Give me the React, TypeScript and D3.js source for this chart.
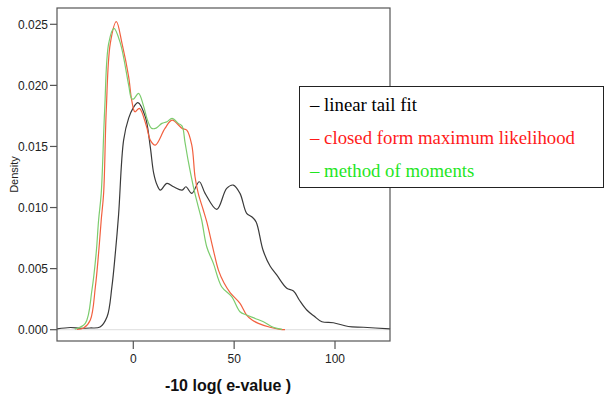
import React from "react";
import * as d3 from "d3";

// density estimates: [x, density]
const linearTailFit: [number, number][] = [
  [-37.8, 0.00006], [-31.2, 0.00018], [-26.4, 0.00012], [-21.5, 0.00014], [-16.5, 0.00022],
  [-13.0, 0.00106], [-10.6, 0.00352], [-8.9, 0.00628], [-7.3, 0.0094], [-4.8, 0.01552],
  [-2.3, 0.01732], [-0.1, 0.01814], [2.3, 0.01859], [6.0, 0.0174], [8.4, 0.01498],
  [10.1, 0.01282], [11.8, 0.01184], [13.4, 0.01143], [16.7, 0.01198], [20.0, 0.0117],
  [24.2, 0.01143], [26.1, 0.0117], [29.0, 0.01116], [32.7, 0.01211], [35.6, 0.01116],
  [41.4, 0.00985], [46.3, 0.01157], [49.6, 0.01184], [52.9, 0.01116], [56.2, 0.00953],
  [58.7, 0.00925], [60.9, 0.00881], [64.3, 0.00652], [67.8, 0.00521], [71.1, 0.00448],
  [76.1, 0.00339], [79.4, 0.00317], [82.3, 0.00243], [86.0, 0.00161], [89.6, 0.00112],
  [93.5, 0.00065], [99.2, 0.00057], [106.6, 0.00026], [114.1, 0.0002], [127.3, 0.00006],
];

const closedFormML: [number, number][] = [
  [-28.0, 0.00002], [-24.6, 0.00014], [-21.3, 0.0008], [-18.8, 0.00352], [-17.2, 0.00628],
  [-15.9, 0.00898], [-14.7, 0.01119], [-13.4, 0.01798], [-11.4, 0.02344], [-8.4, 0.02522],
  [-5.6, 0.02344], [-2.3, 0.0207], [-0.8, 0.0188], [0.8, 0.01784], [3.0, 0.01812],
  [6.6, 0.01661], [8.4, 0.01552], [10.9, 0.01511], [15.7, 0.01648], [19.2, 0.01716],
  [24.2, 0.01648], [26.5, 0.01634], [29.0, 0.01511], [30.6, 0.01252], [32.2, 0.01116],
  [34.7, 0.0098], [36.4, 0.00884], [39.7, 0.00652], [42.2, 0.00488], [45.0, 0.00382],
  [48.0, 0.00304], [52.9, 0.00216], [56.2, 0.0012], [58.9, 0.00079], [62.0, 0.00052],
  [67.8, 0.0002], [72.8, 0.00003], [75.2, 0.0],
];

const methodOfMoments: [number, number][] = [
  [-29.0, 0.00005], [-23.8, 0.00052], [-20.5, 0.00325], [-18.4, 0.00628], [-17.2, 0.00898],
  [-15.9, 0.01116], [-14.2, 0.01798], [-12.2, 0.02344], [-9.6, 0.02466], [-6.4, 0.02344],
  [-2.3, 0.02002], [-0.9, 0.01894], [0.1, 0.01888], [2.6, 0.01935], [5.1, 0.0183],
  [7.0, 0.01716], [9.1, 0.01648], [11.3, 0.0165], [14.2, 0.01689], [16.7, 0.01702],
  [19.2, 0.0173], [22.3, 0.01689], [24.2, 0.01667], [25.6, 0.01538], [27.3, 0.01375],
  [29.8, 0.0117], [32.2, 0.01007], [33.9, 0.00898], [36.4, 0.00679], [39.7, 0.00543],
  [43.8, 0.00352], [48.8, 0.0027], [52.9, 0.00147], [56.2, 0.0012], [60.4, 0.00092],
  [64.5, 0.00065], [69.4, 0.0002], [73.8, 0.00002],
];

const xTicks = [0, 50, 100];
const yTicks = [0, 0.005, 0.01, 0.015, 0.02, 0.025];
const legendLabels = ["linear tail fit", "closed form maximum likelihood", "method of moments"];

export default function App() {
  const left = 57, right = 390, top = 8, bottom = 341;

  const x = d3.scaleLinear().domain([0, 100]).range([133.3, 335]);
  const y = d3.scaleLinear().domain([0, 0.025]).range([329.7, 24.3]);

  const line = d3.line<[number, number]>()
    .x(d => x(d[0]))
    .y(d => y(d[1]))
    .curve(d3.curveCatmullRom.alpha(0.5));

  const series = [
    { data: linearTailFit, color: "#3a3a3a", text: "#000000" },
    { data: closedFormML, color: "#f2603f", text: "#ff1a1a" },
    { data: methodOfMoments, color: "#7ccc6e", text: "#1fe61f" },
  ];

  const sans = "'Liberation Sans', Arial, Helvetica, sans-serif";
  const serif = "'Liberation Serif', 'Times New Roman', 'DejaVu Serif', serif";

  return (
    <svg width={605} height={398} style={{ position: "absolute", left: 0, top: 0 }}>
      <rect width={605} height={398} fill="#fff" />
      {/* zero reference line */}
      <line x1={left} x2={right} y1={y(0)} y2={y(0)} stroke="#e4e4e4" strokeWidth={1.2} />

      {series.map((s, i) => (
        <path key={i} d={line(s.data) || ""} fill="none" stroke={s.color} strokeWidth={1.2} />
      ))}

      {/* plot box */}
      <rect x={left} y={top} width={right - left} height={bottom - top} fill="none" stroke="#555" strokeWidth={1.2} />

      {/* y axis */}
      {yTicks.map(t => (
        <g key={t}>
          <line x1={left - 7} x2={left} y1={y(t)} y2={y(t)} stroke="#555" strokeWidth={1.2} />
          <text x={48} y={y(t)} dy="0.35em" textAnchor="end" style={{ fontFamily: sans, fontSize: 12 }} fill="#222">
            {d3.format(".3f")(t)}
          </text>
        </g>
      ))}
      <text transform={`translate(18,${(top + bottom) / 2}) rotate(-90)`} textAnchor="middle"
        style={{ fontFamily: sans, fontSize: 11 }} fill="#222">Density</text>

      {/* x axis */}
      {xTicks.map(t => (
        <g key={t}>
          <line x1={x(t)} x2={x(t)} y1={bottom} y2={bottom + 8} stroke="#555" strokeWidth={1.2} />
          <text x={x(t)} y={bottom + 18} dy="0.35em" textAnchor="middle" style={{ fontFamily: sans, fontSize: 12 }} fill="#222">
            {t}
          </text>
        </g>
      ))}
      <text x={228} y={391} textAnchor="middle" style={{ fontFamily: sans, fontSize: 16, fontWeight: "bold" }} fill="#111">
        -10 log( e-value )
      </text>

      {/* legend */}
      <rect x={299.5} y={86.5} width={304} height={101} fill="#fff" stroke="#222" strokeWidth={1} />
      {legendLabels.map((l, i) => (
        <text key={l} x={310} y={110.7 + i * 33.3} style={{ fontFamily: serif, fontSize: 18.8 }} fill={series[i].text}>
          {"\u2013 " + l}
        </text>
      ))}
    </svg>
  );
}
